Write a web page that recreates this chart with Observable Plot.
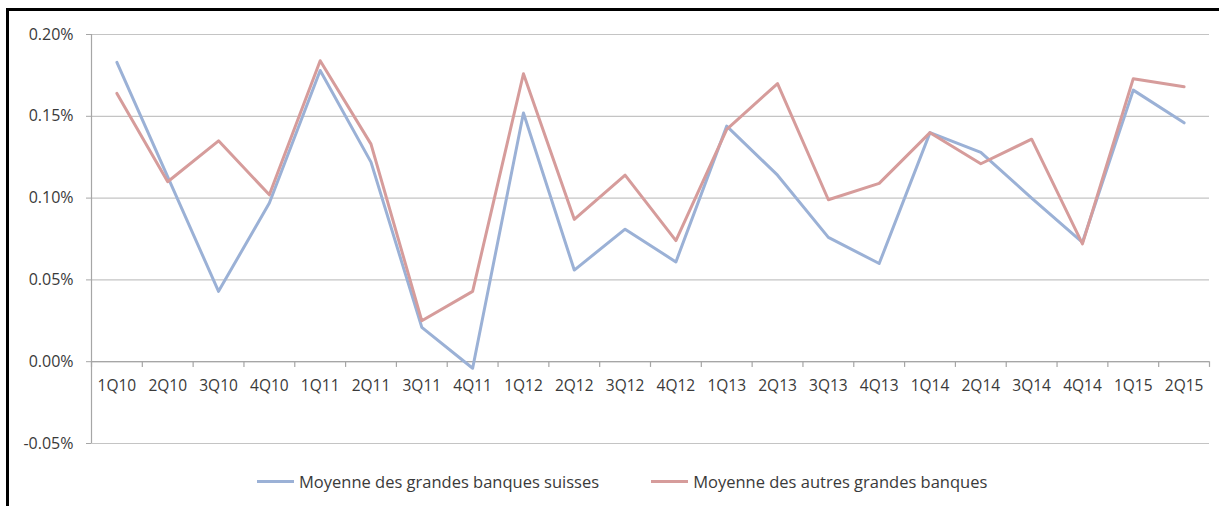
<!DOCTYPE html>
<html><head><meta charset="utf-8">
<script src="https://cdn.jsdelivr.net/npm/d3@7"></script>
<script src="https://cdn.jsdelivr.net/npm/@observablehq/plot@0.6"></script>
<style>
body{margin:0;background:#fff;font-family:"Open Sans", Lato, sans-serif;}
#wrap{position:relative;width:1219px;height:506px;overflow:hidden;background:#fff;}
#frame{position:absolute;left:6px;top:8px;width:1300px;height:600px;border-left:3px solid #000;border-top:3px solid #000;pointer-events:none;}
#chart{position:absolute;left:0;top:0;}
#legend{position:absolute;top:470px;left:257px;display:flex;align-items:center;gap:52px;font-size:16.5px;color:#3a3a3a;white-space:nowrap;}
.item{display:flex;align-items:center;gap:5px;}
.sw{width:37px;height:3px;}
</style>
</head><body>
<div id="wrap"><div id="chart"></div><div id="legend"></div><div id="frame"></div></div>
<script>
const categories = ["1Q10","2Q10","3Q10","4Q10","1Q11","2Q11","3Q11","4Q11","1Q12","2Q12","3Q12","4Q12","1Q13","2Q13","3Q13","4Q13","1Q14","2Q14","3Q14","4Q14","1Q15","2Q15"];
const suisses = [0.183, 0.113, 0.043, 0.097, 0.178, 0.122, 0.021, -0.004, 0.152, 0.056, 0.081, 0.061, 0.144, 0.114, 0.076, 0.060, 0.140, 0.128, 0.100, 0.073, 0.166, 0.146];
const autres = [0.164, 0.110, 0.135, 0.102, 0.184, 0.133, 0.025, 0.043, 0.176, 0.087, 0.114, 0.074, 0.142, 0.170, 0.099, 0.109, 0.140, 0.121, 0.136, 0.072, 0.173, 0.168];
const yTicks = [-0.05, 0, 0.05, 0.10, 0.15, 0.20];
const seriesNames = ["Moyenne des grandes banques suisses", "Moyenne des autres grandes banques"];
const colors = ["#9bb1d6", "#d69c9b"];

const rows = [];
categories.forEach((c, i) => {
  rows.push({i, cat: c, s: seriesNames[0], v: suisses[i]});
  rows.push({i, cat: c, s: seriesNames[1], v: autres[i]});
});
const boundaries = d3.range(categories.length + 1).map(k => k - 0.5);
const fmt = d => d.toFixed(2) + "%";

const chart = Plot.plot({
  width: 1219, height: 460,
  marginTop: 34, marginLeft: 91, marginRight: 10, marginBottom: 17,
  style: {fontFamily: "'Open Sans', Lato, sans-serif", fontSize: "15.5px", color: "#3a3a3a", background: "transparent"},
  x: {type: "linear", domain: [-0.5, categories.length - 0.5], axis: null},
  y: {domain: [-0.05, 0.20], axis: null},
  color: {domain: seriesNames, range: colors},
  marks: [
    Plot.gridY(yTicks, {stroke: "#c4c4c4", strokeOpacity: 1, strokeWidth: 1.2}),
    Plot.axisY({ticks: yTicks, tickFormat: fmt, tickSize: 5, tickPadding: 13, stroke: "#a6a6a6", fontSize: 16, fill: "#3a3a3a", label: null}),
    Plot.ruleX([-0.5], {y1: -0.05, y2: 0.20, stroke: "#a6a6a6", strokeWidth: 1.2}),
    Plot.ruleY([0], {stroke: "#a6a6a6", strokeWidth: 1.2}),
    Plot.ruleX(boundaries, {x: d => d, y1: 0, y2: -0.0035, stroke: "#a6a6a6", strokeWidth: 1.2}),
    Plot.text(categories, {x: (d, i) => i, y: 0, text: d => d, dy: 24, fontSize: 15.5, fill: "#3a3a3a"}),
    Plot.line(rows, {x: "i", y: "v", z: "s", stroke: "s", strokeWidth: 3})
  ]
});
document.getElementById("chart").appendChild(chart);

const legend = document.getElementById("legend");
seriesNames.forEach((n, k) => {
  const it = document.createElement("div"); it.className = "item";
  const sw = document.createElement("div"); sw.className = "sw"; sw.style.background = colors[k];
  const t = document.createElement("span"); t.textContent = n;
  it.appendChild(sw); it.appendChild(t); legend.appendChild(it);
});
</script>
</body></html>
